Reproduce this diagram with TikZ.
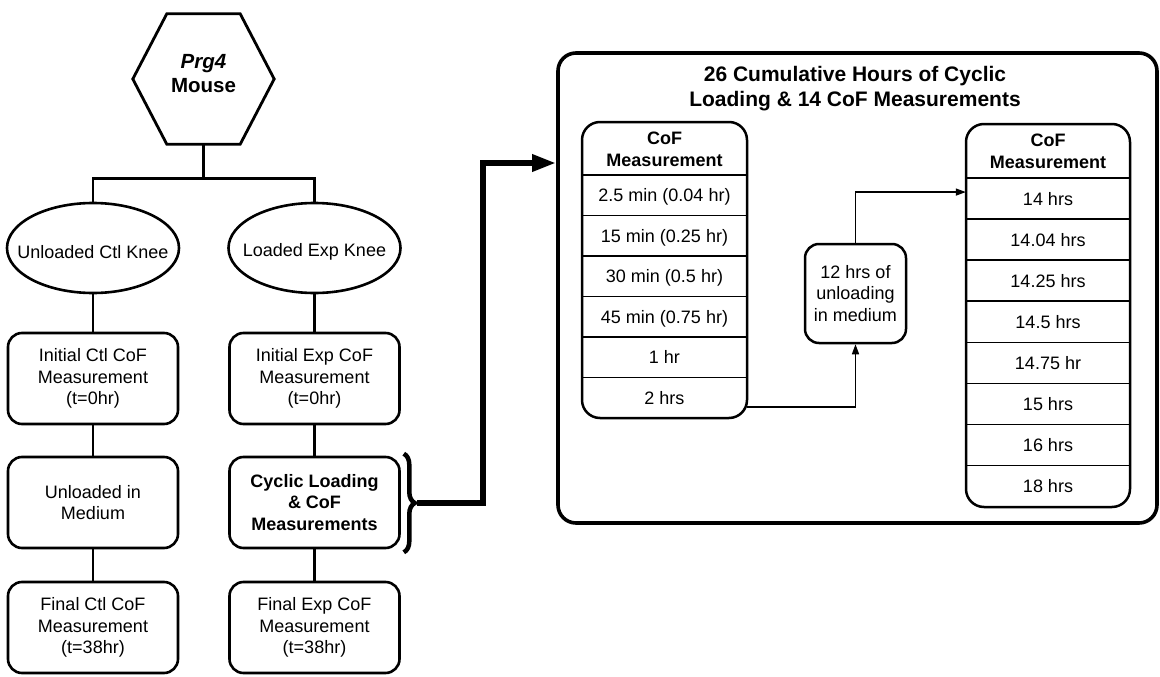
\documentclass[tikz,border=0pt]{standalone}
\usepackage{fontspec}
\setmainfont{Liberation Sans}
\usetikzlibrary{shapes.geometric,arrows.meta,decorations.pathreplacing,calc}
\begin{document}
\begin{tikzpicture}[x=1pt,y=-1pt,
  every node/.style={font=\fontsize{18}{21.7}\selectfont, align=center, inner sep=0pt},
  treebox/.style={draw, rounded corners=14pt, line width=2.6pt, minimum width=170pt, minimum height=91pt},
  knee/.style={draw, ellipse, line width=2.6pt, minimum width=172pt, minimum height=90pt},
  treeline/.style={line width=2.6pt},
  tabbox/.style={draw, rounded corners=18pt, line width=2.5pt},
  tabhead/.style={font=\fontsize{18}{22}\selectfont\bfseries},
  rowsep/.style={line width=1.5pt},
  thinarrow/.style={line width=1.5pt, -{Triangle[length=10pt,width=7pt]}},
  boldtext/.style={font=\fontsize{18}{21.7}\selectfont\bfseries},
]
\useasboundingbox (0,0) rectangle (1160,677);

% hexagon
\node[minimum width=141pt, minimum height=130pt] (hex) at (203.5,79) {};
\draw[line width=2.8pt, line join=miter]
  ($(hex.north west)+(34,0)$) -- ($(hex.north east)+(-34,0)$) -- (hex.east)
  -- ($(hex.south east)+(-34,0)$) -- ($(hex.south west)+(34,0)$) -- (hex.west) -- cycle;
\node[font=\fontsize{20.5}{24}\selectfont\bfseries] (hexlabel) at ([yshift=5pt]hex.center) {\textit{Prg4}\\Mouse};

% knees
\node[knee, label={[yshift=-4pt]center:Unloaded Ctl Knee}] (e1) at (93,248) {};
\node[knee, label={[yshift=-4pt]center:Loaded Exp Knee}] (e2) at (314.5,248) {};

% boxes
\node[treebox] (c1) at (93,378.5) {Initial Ctl CoF\\Measurement\\(t=0hr)};
\node[treebox] (c2) at (93,502.5) {Unloaded in\\Medium};
\node[treebox] (c3) at (93,627.5) {Final Ctl CoF\\Measurement\\(t=38hr)};
\node[treebox] (x1) at (314.5,378.5) {Initial Exp CoF\\Measurement\\(t=0hr)};
\node[treebox, boldtext] (x2) at (314.5,502.5) {Cyclic Loading\\\& CoF\\Measurements};
\node[treebox] (x3) at (314.5,627.5) {Final Exp CoF\\Measurement\\(t=38hr)};

\draw[treeline] (hex.south) -- ++(0,34) -| (e1.north);
\draw[treeline] (hex.south) -- ++(0,34) -| (e2.north);
\draw[treeline] (e1) -- (c1);
\draw[treeline] (c1) -- (c2);
\draw[treeline] (c2) -- (c3);
\draw[treeline] (e2) -- (x1);
\draw[treeline] (x1) -- (x2);
\draw[treeline] (x2) -- (x3);

% big box
\node[draw, rounded corners=18pt, line width=3.6pt, minimum width=599pt, minimum height=470pt] (big) at (857.5,288) {};
\node[font=\fontsize{21}{25}\selectfont\bfseries] (title) at (855,88.5) {26 Cumulative Hours of Cyclic\\Loading \& 14 CoF Measurements};

% brace and thick arrow
\draw[decorate, decoration={brace, amplitude=11pt}, line width=4.5pt]
  ([xshift=3pt,yshift=2pt]x2.north east) -- ([xshift=3pt,yshift=-3pt]x2.south east);
\coordinate (bt) at ([xshift=16pt]x2.east);
\draw[line width=6pt, -{Triangle[length=24pt,width=16pt]}] (bt) -- ++(66,0) |- ([yshift=125pt]big.west);

% left table
\node[tabbox, minimum width=165pt, minimum height=296pt] (lt) at (664.5,270) {};
\node[tabhead] (lh) at (664.5,149) {CoF\\Measurement};
\foreach \t [count=\i] in {{2.5 min (0.04 hr)},{15 min (0.25 hr)},{30 min (0.5 hr)},{45 min (0.75 hr)},{1 hr},{2 hrs}} {
  \node[minimum width=165pt, minimum height=40.5pt, text height=13pt, text depth=0pt] (l\i) at (664.5,{175+40.5*(\i-0.5)}) {\t};
  \draw[rowsep] (l\i.north west) -- (l\i.north east);
}

% right table
\node[tabbox, minimum width=164pt, minimum height=383pt] (rt) at (1048,315.5) {};
\node[tabhead] (rh) at (1048,151) {CoF\\Measurement};
\foreach \t [count=\i] in {{14 hrs},{14.04 hrs},{14.25 hrs},{14.5 hrs},{14.75 hr},{15 hrs},{16 hrs},{18 hrs}} {
  \node[minimum width=164pt, minimum height=41.1pt, text height=13pt, text depth=0pt] (r\i) at (1048,{178+41.125*(\i-0.5)}) {\t};
  \draw[rowsep] (r\i.north west) -- (r\i.north east);
}

% middle box
\node[draw, rounded corners=14pt, line width=2.5pt, minimum width=101pt, minimum height=99pt] (mid) at (855.5,293.5) {12 hrs of\\unloading\\in medium};
\draw[thinarrow] ([yshift=-9pt]l6.east) -| (mid.south);
\draw[thinarrow] (mid.north) |- ([yshift=6.5pt]r1.west);
\end{tikzpicture}
\end{document}
